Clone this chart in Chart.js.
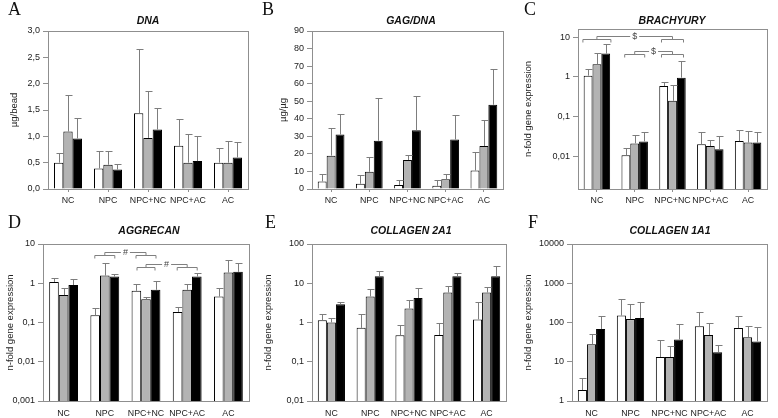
<!DOCTYPE html>
<html>
<head>
<meta charset="utf-8">
<script src="https://cdn.jsdelivr.net/npm/chart.js@4.4.1/dist/chart.umd.min.js"></script>
<style>
  html, body { margin: 0; padding: 0; background: #fff; }
  #fig { position: relative; width: 778px; height: 418px; overflow: hidden; }
  #fig canvas { position: absolute; }
  .letter { position: absolute; font-family: 'Liberation Serif', 'Times New Roman', serif; font-size: 18px; line-height: 18px; color: #111; }
  .ttl { position: absolute; width: 200px; text-align: center; font-family: 'Liberation Sans', Arial, sans-serif; font-weight: bold; font-style: italic; font-size: 10.5px; line-height: 12px; color: #111; }
</style>
</head>
<body>
<div id="fig"></div>
<script>
// categories and the three series (white, grey, black bars)
const categories = ['NC', 'NPC', 'NPC+NC', 'NPC+AC', 'AC'];
const seriesNames = ['Series 1', 'Series 2', 'Series 3'];

// mean values and upper ends of error bars, per panel
const dnaMean = [[0.50, 0.39, 1.44, 0.82, 0.50], [1.09, 0.46, 0.97, 0.50, 0.50], [0.96, 0.37, 1.13, 0.53, 0.60]];
const dnaUpper = [[0.68, 0.72, 2.66, 1.33, 0.77], [1.79, 0.73, 1.87, 1.04, 0.92], [1.34, 0.48, 1.53, 1.01, 0.90]];

const gagMean = [[4.3, 3.0, 2.3, 1.8, 10.5], [19.0, 9.8, 16.5, 5.5, 24.5], [31.0, 27.5, 33.5, 28.2, 48.0]];
const gagUpper = [[8.3, 7.8, 5.0, 5.0, 20.8], [34.7, 18.0, 19.3, 8.3, 39.3], [42.5, 52.0, 53.0, 42.3, 68.5]];

const brachMean = [[1.08, 0.0106, 0.59, 0.020, 0.024], [2.1, 0.021, 0.25, 0.018, 0.022], [3.9, 0.0236, 0.96, 0.015, 0.022]];
const brachUpper = [[1.57, 0.0157, 0.73, 0.041, 0.045], [4.0, 0.034, 0.61, 0.026, 0.044], [6.8, 0.041, 2.55, 0.033, 0.041]];

const aggMean = [[1.08, 0.152, 0.64, 0.186, 0.457], [0.50, 1.57, 0.39, 0.68, 1.87], [0.90, 1.48, 0.68, 1.48, 1.95]];
const aggUpper = [[1.35, 0.235, 0.96, 0.243, 0.77], [0.77, 3.3, 0.44, 0.96, 3.8], [1.30, 1.70, 1.17, 1.80, 3.3]];

const col2Mean = [[1.14, 0.73, 0.47, 0.48, 1.2], [1.0, 4.6, 2.27, 5.8, 5.8], [2.9, 15, 4.2, 15, 15]];
const col2Upper = [[1.6, 1.6, 0.84, 0.95, 3.3], [1.3, 7.3, 3.7, 8.7, 8.0], [3.4, 20, 7.6, 18, 27]];

const col1Mean = [[1.9, 150, 13.2, 80, 72], [28, 122, 13.2, 48, 42], [68, 130, 37, 17.5, 33]];
const col1Upper = [[3.8, 400, 36, 185, 150], [50, 290, 25, 98, 81], [145, 330, 92, 26, 75]];

// tick labels
const brachTicks = [0.01, 0.1, 1, 10];
const aggTicks = [0.001, 0.01, 0.1, 1, 10];
const col2Ticks = [0.01, 0.1, 1, 10, 100];
const col1Ticks = [1, 10, 100, 1000, 10000];

// significance brackets: category indices and level (data units)
const brachSig = [{ from: 0, to: 2, level: 10.7, sym: '$' }, { from: 1, to: 2, level: 4.47, sym: '$' }];
const aggSig = [{ from: 1, to: 2, level: 6.3, sym: '#' }, { from: 2, to: 3, level: 3.05, sym: '#' }];

const fillColors = ['#ffffff', '#b3b3b3', '#000000'];
const sansFont = "'Liberation Sans', Arial, sans-serif";
const narrowFont = "'Liberation Sans Narrow', 'Arial Narrow', 'Liberation Sans', Arial, sans-serif";
const comma = v => String(v).replace('.', ',');

const panels = [
  { id: 'A', title: 'DNA', yTitle: 'µg/bead', box: [0, 0, 258, 212], plot: [48, 31, 248, 189], titleX: 148, titleY: 20, letterX: 8, letterY: 0, yTitleX: 14,
    mean: dnaMean, upper: dnaUpper, y: { type: 'linear', min: 0, max: 3, step: 0.5 }, fmt: v => v.toFixed(1).replace('.', ','), top: true, sig: [], bw: [] },
  { id: 'B', title: 'GAG/DNA', yTitle: 'µg/µg', box: [258, 0, 256, 212], plot: [312, 31, 503, 189], titleX: 411, titleY: 20, letterX: 262, letterY: 0, yTitleX: 283,
    mean: gagMean, upper: gagUpper, y: { type: 'linear', min: 0, max: 90, step: 10 }, fmt: v => String(v), top: true, sig: [], bw: [] },
  { id: 'C', title: 'BRACHYURY', yTitle: 'n-fold gene expression', box: [514, 0, 264, 212], plot: [578, 29, 767, 189], titleX: 672, titleY: 20, letterX: 524, letterY: 0, yTitleX: 528,
    mean: brachMean, upper: brachUpper, y: { type: 'logarithmic', min: 0.00148, max: 16.3, ticks: brachTicks }, fmt: comma, top: true, sig: brachSig, bw: [[14, 11], [10, 11]] },
  { id: 'D', title: 'AGGRECAN', yTitle: 'n-fold gene expression', box: [0, 212, 258, 206], plot: [43, 244, 249, 401], titleX: 149, titleY: 230, letterX: 8, letterY: 213, yTitleX: 10,
    mean: aggMean, upper: aggUpper, y: { type: 'logarithmic', min: 0.001, max: 10, ticks: aggTicks }, fmt: comma, top: false, sig: aggSig, bw: [[10, 10], [9, 10]] },
  { id: 'E', title: 'COLLAGEN 2A1', yTitle: 'n-fold gene expression', box: [258, 212, 256, 206], plot: [312, 244, 506, 401], titleX: 411, titleY: 230, letterX: 265, letterY: 213, yTitleX: 268,
    mean: col2Mean, upper: col2Upper, y: { type: 'logarithmic', min: 0.01, max: 100, ticks: col2Ticks }, fmt: comma, top: false, sig: [], bw: [] },
  { id: 'F', title: 'COLLAGEN 1A1', yTitle: 'n-fold gene expression', box: [514, 212, 264, 206], plot: [572, 244, 767, 401], titleX: 670, titleY: 230, letterX: 528, letterY: 213, yTitleX: 528,
    mean: col1Mean, upper: col1Upper, y: { type: 'logarithmic', min: 1, max: 10000, ticks: col1Ticks }, fmt: comma, top: false, sig: [], bw: [] }
];

function decorPlugin(p) {
  return {
    id: 'decor' + p.id,
    afterDatasetsDraw(chart) {
      const { ctx, chartArea: a, scales: { x, y } } = chart;
      ctx.save();
      // error bars (upper only)
      ctx.strokeStyle = '#7d7d7d';
      ctx.lineWidth = 1;
      chart.data.datasets.forEach((ds, i) => {
        chart.getDatasetMeta(i).data.forEach((bar, j) => {
          const top = Math.round(y.getPixelForValue(p.upper[i][j])) + 0.5;
          const bx = Math.round(bar.x) + 0.5;
          ctx.beginPath();
          ctx.moveTo(bx, bar.y);
          ctx.lineTo(bx, top);
          ctx.moveTo(bx - 3, top);
          ctx.lineTo(bx + 4, top);
          ctx.stroke();
        });
      });
      // frame
      ctx.strokeStyle = '#8f8f8f';
      ctx.strokeRect(Math.round(a.left) + 0.5, Math.round(a.top) + 0.5, Math.round(a.right - a.left), Math.round(a.bottom - a.top));
      // significance brackets
      ctx.strokeStyle = '#808080';
      ctx.fillStyle = '#444';
      ctx.font = '9px ' + sansFont;
      ctx.textAlign = 'center';
      ctx.textBaseline = 'middle';
      p.sig.forEach((s, k) => {
        const yl = Math.round(y.getPixelForValue(s.level)) + 0.5;
        const yb = yl + 3;
        const x1 = x.getPixelForValue(s.from), x2 = x.getPixelForValue(s.to);
        const w = p.bw[k];
        ctx.beginPath();
        [[x1, w[0]], [x2, w[1]]].forEach(([xc, hw]) => {
          ctx.moveTo(xc - hw, yb + 3);
          ctx.lineTo(xc - hw, yb);
          ctx.lineTo(xc + hw, yb);
          ctx.lineTo(xc + hw, yb + 3);
          ctx.moveTo(xc, yb);
          ctx.lineTo(xc, yl);
        });
        const xm = (x1 + x2) / 2;
        const gap = ctx.measureText(s.sym).width / 2 + 2;
        ctx.moveTo(x1, yl);
        ctx.lineTo(xm - gap, yl);
        ctx.moveTo(xm + gap, yl);
        ctx.lineTo(x2, yl);
        ctx.stroke();
        ctx.fillText(s.sym, xm, yl);
      });
      ctx.restore();
    }
  };
}

function makePanel(p) {
  const fig = document.getElementById('fig');
  const [cx, cy, cw, ch] = p.box;
  const [pl, pt, pr, pb] = p.plot;

  const canvas = document.createElement('canvas');
  canvas.width = cw;
  canvas.height = ch;
  canvas.style.left = cx + 'px';
  canvas.style.top = cy + 'px';
  fig.appendChild(canvas);

  const letter = document.createElement('div');
  letter.className = 'letter';
  letter.textContent = p.id;
  letter.style.left = p.letterX + 'px';
  letter.style.top = p.letterY + 'px';
  fig.appendChild(letter);

  const ttl = document.createElement('div');
  ttl.className = 'ttl';
  ttl.textContent = p.title;
  ttl.style.left = (p.titleX - 100) + 'px';
  ttl.style.top = (p.titleY - 6) + 'px';
  fig.appendChild(ttl);

  const yScale = {
    type: p.y.type,
    min: p.y.min,
    max: p.y.max,
    border: { display: false },
    grid: { drawOnChartArea: false, tickLength: 5, color: '#8f8f8f' },
    ticks: { padding: 3, color: '#222', font: { family: narrowFont, size: 9 }, callback: v => p.fmt(v) },
    title: { display: true, text: p.yTitle, color: '#222', font: { family: sansFont, size: 9.5 }, padding: { top: Math.max(0, p.yTitleX - cx - 4 - 5.7), bottom: 0 } },
    afterFit: s => { s.width = pl - cx - 4; }
  };
  if (p.y.type === 'linear') {
    yScale.ticks.stepSize = p.y.step;
  } else {
    yScale.afterBuildTicks = s => { s.ticks = p.y.ticks.map(v => ({ value: v })); };
  }

  new Chart(canvas, {
    type: 'bar',
    data: {
      labels: categories,
      datasets: p.mean.map((vals, i) => ({
        label: seriesNames[i],
        data: vals,
        backgroundColor: fillColors[i],
        borderColor: '#000',
        borderWidth: 1
      }))
    },
    options: {
      responsive: false,
      animation: false,
      events: [],
      datasets: { bar: { categoryPercentage: 0.7, barPercentage: 1.0 } },
      layout: { padding: { left: 4, top: pt - cy, right: cx + cw - pr, bottom: 0 } },
      plugins: { legend: { display: false }, tooltip: { enabled: false }, title: { display: false } },
      scales: {
        x: {
          border: { display: false },
          grid: { display: p.top, drawOnChartArea: false, offset: false, tickLength: 3, color: '#8f8f8f' },
          ticks: { autoSkip: false, maxRotation: 0, minRotation: 0, padding: p.top ? 3.6 : 4.5, color: '#222', font: { family: sansFont, size: 8.8 } },
          afterFit: s => { s.height = cy + ch - pb; }
        },
        y: yScale
      }
    },
    plugins: [decorPlugin(p)]
  });
}

document.addEventListener('DOMContentLoaded', function () {
  panels.forEach(makePanel);
});
</script>
</body>
</html>
